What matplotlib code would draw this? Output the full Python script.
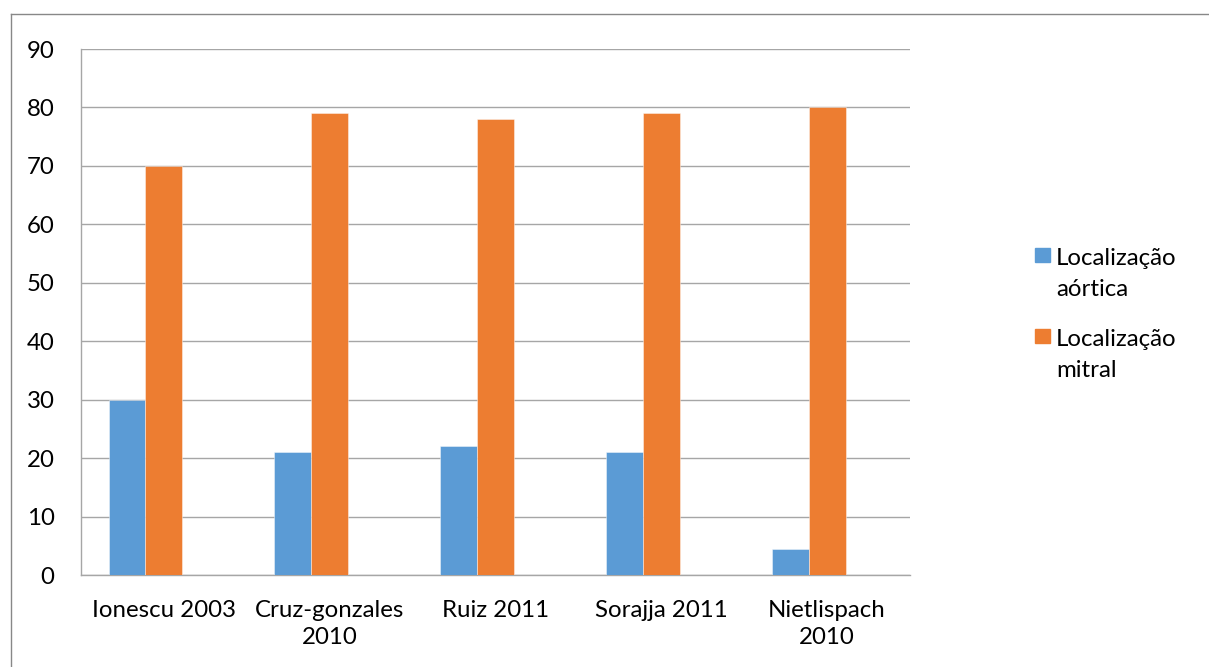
import matplotlib
matplotlib.use("Agg")
import matplotlib.pyplot as plt
from matplotlib.patches import Rectangle
from matplotlib.lines import Line2D
import numpy as np

plt.rcParams['font.family'] = ['Lato', 'DejaVu Sans']

categories = ["Ionescu 2003", "Cruz-gonzales\n2010", "Ruiz 2011", "Sorajja 2011", "Nietlispach\n2010"]
aortica = [30, 21, 22, 21, 4.5]
mitral = [70, 79, 78, 79, 80]
series_names = ["Localização\naórtica", "Localização\nmitral"]
colors = ["#5B9BD5", "#ED7D31"]
yticks = [0, 10, 20, 30, 40, 50, 60, 70, 80, 90]

W, H = 1209, 667
FS = 17.3
fig = plt.figure(figsize=(W / 100, H / 100), dpi=100)
ax = fig.add_axes([81 / W, 1 - 575 / H, (910 - 81) / W, (575 - 49) / H])

x = np.arange(len(categories))
w = 1 / 4.5  # 3 series slots with 150% gap
ax.bar(x - w, aortica, width=w, color=colors[0], edgecolor=(1, 1, 1, 0.5), linewidth=0.6, zorder=3)
ax.bar(x, mitral, width=w, color=colors[1], edgecolor=(1, 1, 1, 0.5), linewidth=0.6, zorder=3)

ax.set_xlim(-0.5, len(categories) - 0.5)
ax.set_ylim(0, 90)
ax.set_yticks(yticks)
ax.set_yticklabels([str(v) for v in yticks])
ax.set_xticks(x)
ax.set_xticklabels(categories, linespacing=1.38)
ax.grid(axis='y', color='#A6A6A6', linewidth=1.0, zorder=0)
for s in ['top', 'right']:
    ax.spines[s].set_visible(False)
ax.spines['left'].set_color('#A6A6A6')
ax.spines['bottom'].set_color('#A6A6A6')
ax.spines['left'].set_linewidth(1.0)
ax.spines['bottom'].set_linewidth(1.0)
ax.tick_params(axis='y', length=0, pad=19, labelsize=FS)
ax.tick_params(axis='x', length=0, pad=18, labelsize=FS)

# legend drawn manually (marker aligned with first line)
leg_y = [247.5, 329]
for i, name in enumerate(series_names):
    y0 = leg_y[i]
    fig.patches.append(Rectangle((1035 / W, 1 - (y0 + 14) / H), 15 / W, 14 / H,
                                 transform=fig.transFigure, color=colors[i]))
    for j, line in enumerate(name.split("\n")):
        fig.text(1056 / W, 1 - (y0 + 17.5 + 31 * j) / H, line, fontsize=FS,
                 va='baseline', ha='left')

# outer chart border
fig.add_artist(Line2D([10.5 / W, 10.5 / W], [0, 1 - 13.5 / H], transform=fig.transFigure,
                      color='#888888', linewidth=1.0))
fig.add_artist(Line2D([10.5 / W, 1208.5 / W], [1 - 13.5 / H, 1 - 13.5 / H], transform=fig.transFigure,
                      color='#888888', linewidth=1.0))

fig.savefig("out.png", dpi=100)
